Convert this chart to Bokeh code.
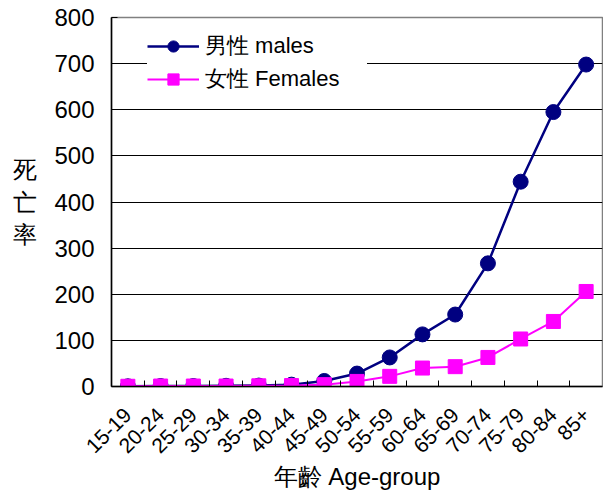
import math
from bokeh.plotting import figure
from bokeh.models import FixedTicker, Legend, LegendItem, Range1d
from bokeh.embed import file_html
from bokeh.resources import INLINE

age_groups = ["15-19", "20-24", "25-29", "30-34", "35-39", "40-44", "45-49",
              "50-54", "55-59", "60-64", "65-69", "70-74", "75-79", "80-84", "85+"]
males = [0.5, 1, 1, 1.5, 2, 4, 12, 28, 63, 113, 156, 267, 444, 595, 698]
females = [0.5, 1, 1, 1, 1.5, 2, 4, 11, 22, 40, 43, 63, 103, 141, 206]
y_ticks = [0, 100, 200, 300, 400, 500, 600, 700, 800]
y_title = "死\n亡\n率"

x = list(range(len(age_groups)))

p = figure(width=603, height=494, output_backend="svg", toolbar_location=None,
           x_range=Range1d(-0.5, len(age_groups) - 0.5),
           y_range=Range1d(y_ticks[0], y_ticks[-1]),
           min_border_left=111, min_border_right=1, min_border_top=17,
           min_border_bottom=108)
p.background_fill_color = "white"
p.border_fill_color = "white"
p.outline_line_color = "#808080"
p.outline_line_width = 1.5

ml = p.line(x, males, line_color="#000080", line_width=2.5)
ms = p.scatter(x, males, marker="circle", size=15, fill_color="#000080", line_color="#000080")
fl = p.line(x, females, line_color="#FF00FF", line_width=2)
fs = p.scatter(x, females, marker="square", size=14, fill_color="#FF00FF", line_color="#FF00FF")

# x axis
p.xaxis.ticker = FixedTicker(ticks=x, minor_ticks=[i + 0.5 for i in x[:-1]])
p.xaxis.major_label_overrides = {i: lbl for i, lbl in enumerate(age_groups)}
p.xaxis.major_tick_line_color = None
p.xaxis.minor_tick_in = 6
p.xaxis.minor_tick_out = 0
p.xaxis.minor_tick_line_color = "black"
p.xaxis.major_label_orientation = math.pi / 4
p.xaxis.major_label_text_font = "Liberation Sans"
p.xaxis.major_label_text_font_size = "21px"
p.xaxis.major_label_text_color = "black"
p.xaxis.major_label_standoff = 19
p.xaxis.axis_label = "年齡 Age-group"
p.xaxis.axis_label_text_font = "Liberation Sans"
p.xaxis.axis_label_text_font_size = "24px"
p.xaxis.axis_label_text_font_style = "normal"
p.xaxis.axis_label_text_color = "black"
p.xaxis.axis_label_standoff = 1
p.xaxis.axis_line_color = "black"
p.xaxis.axis_line_width = 1.5

# y axis
p.yaxis.ticker = FixedTicker(ticks=y_ticks)
p.yaxis.major_tick_in = 6
p.yaxis.major_tick_out = 0
p.yaxis.major_tick_line_color = "black"
p.yaxis.minor_tick_line_color = None
p.yaxis.major_label_text_font = "Liberation Sans"
p.yaxis.major_label_text_font_size = "24px"
p.yaxis.major_label_text_color = "black"
p.yaxis.major_label_standoff = 17
p.yaxis.axis_label = y_title
p.yaxis.axis_label_orientation = "horizontal"
p.yaxis.axis_label_text_font = "Liberation Sans"
p.yaxis.axis_label_text_font_size = "24px"
p.yaxis.axis_label_text_font_style = "normal"
p.yaxis.axis_label_text_color = "black"
p.yaxis.axis_label_standoff = 14
p.yaxis.axis_line_color = "black"
p.yaxis.axis_line_width = 1.5

p.xgrid.grid_line_color = None
p.ygrid.ticker = FixedTicker(ticks=y_ticks[1:-1])
p.ygrid.grid_line_color = "black"
p.ygrid.grid_line_width = 1

legend = Legend(items=[LegendItem(label="男性 males", renderers=[ml, ms]),
                       LegendItem(label="女性 Females", renderers=[fl, fs])],
                location=(36, 292), margin=0, padding=6, spacing=3,
                glyph_width=52, glyph_height=28, label_height=28, label_width=162,
                label_standoff=6, label_text_font="Liberation Sans",
                label_text_font_size="22px", label_text_color="black",
                background_fill_color="white", background_fill_alpha=1,
                border_line_color=None)
p.add_layout(legend)

open("out.html", "w").write(file_html(p, INLINE))
